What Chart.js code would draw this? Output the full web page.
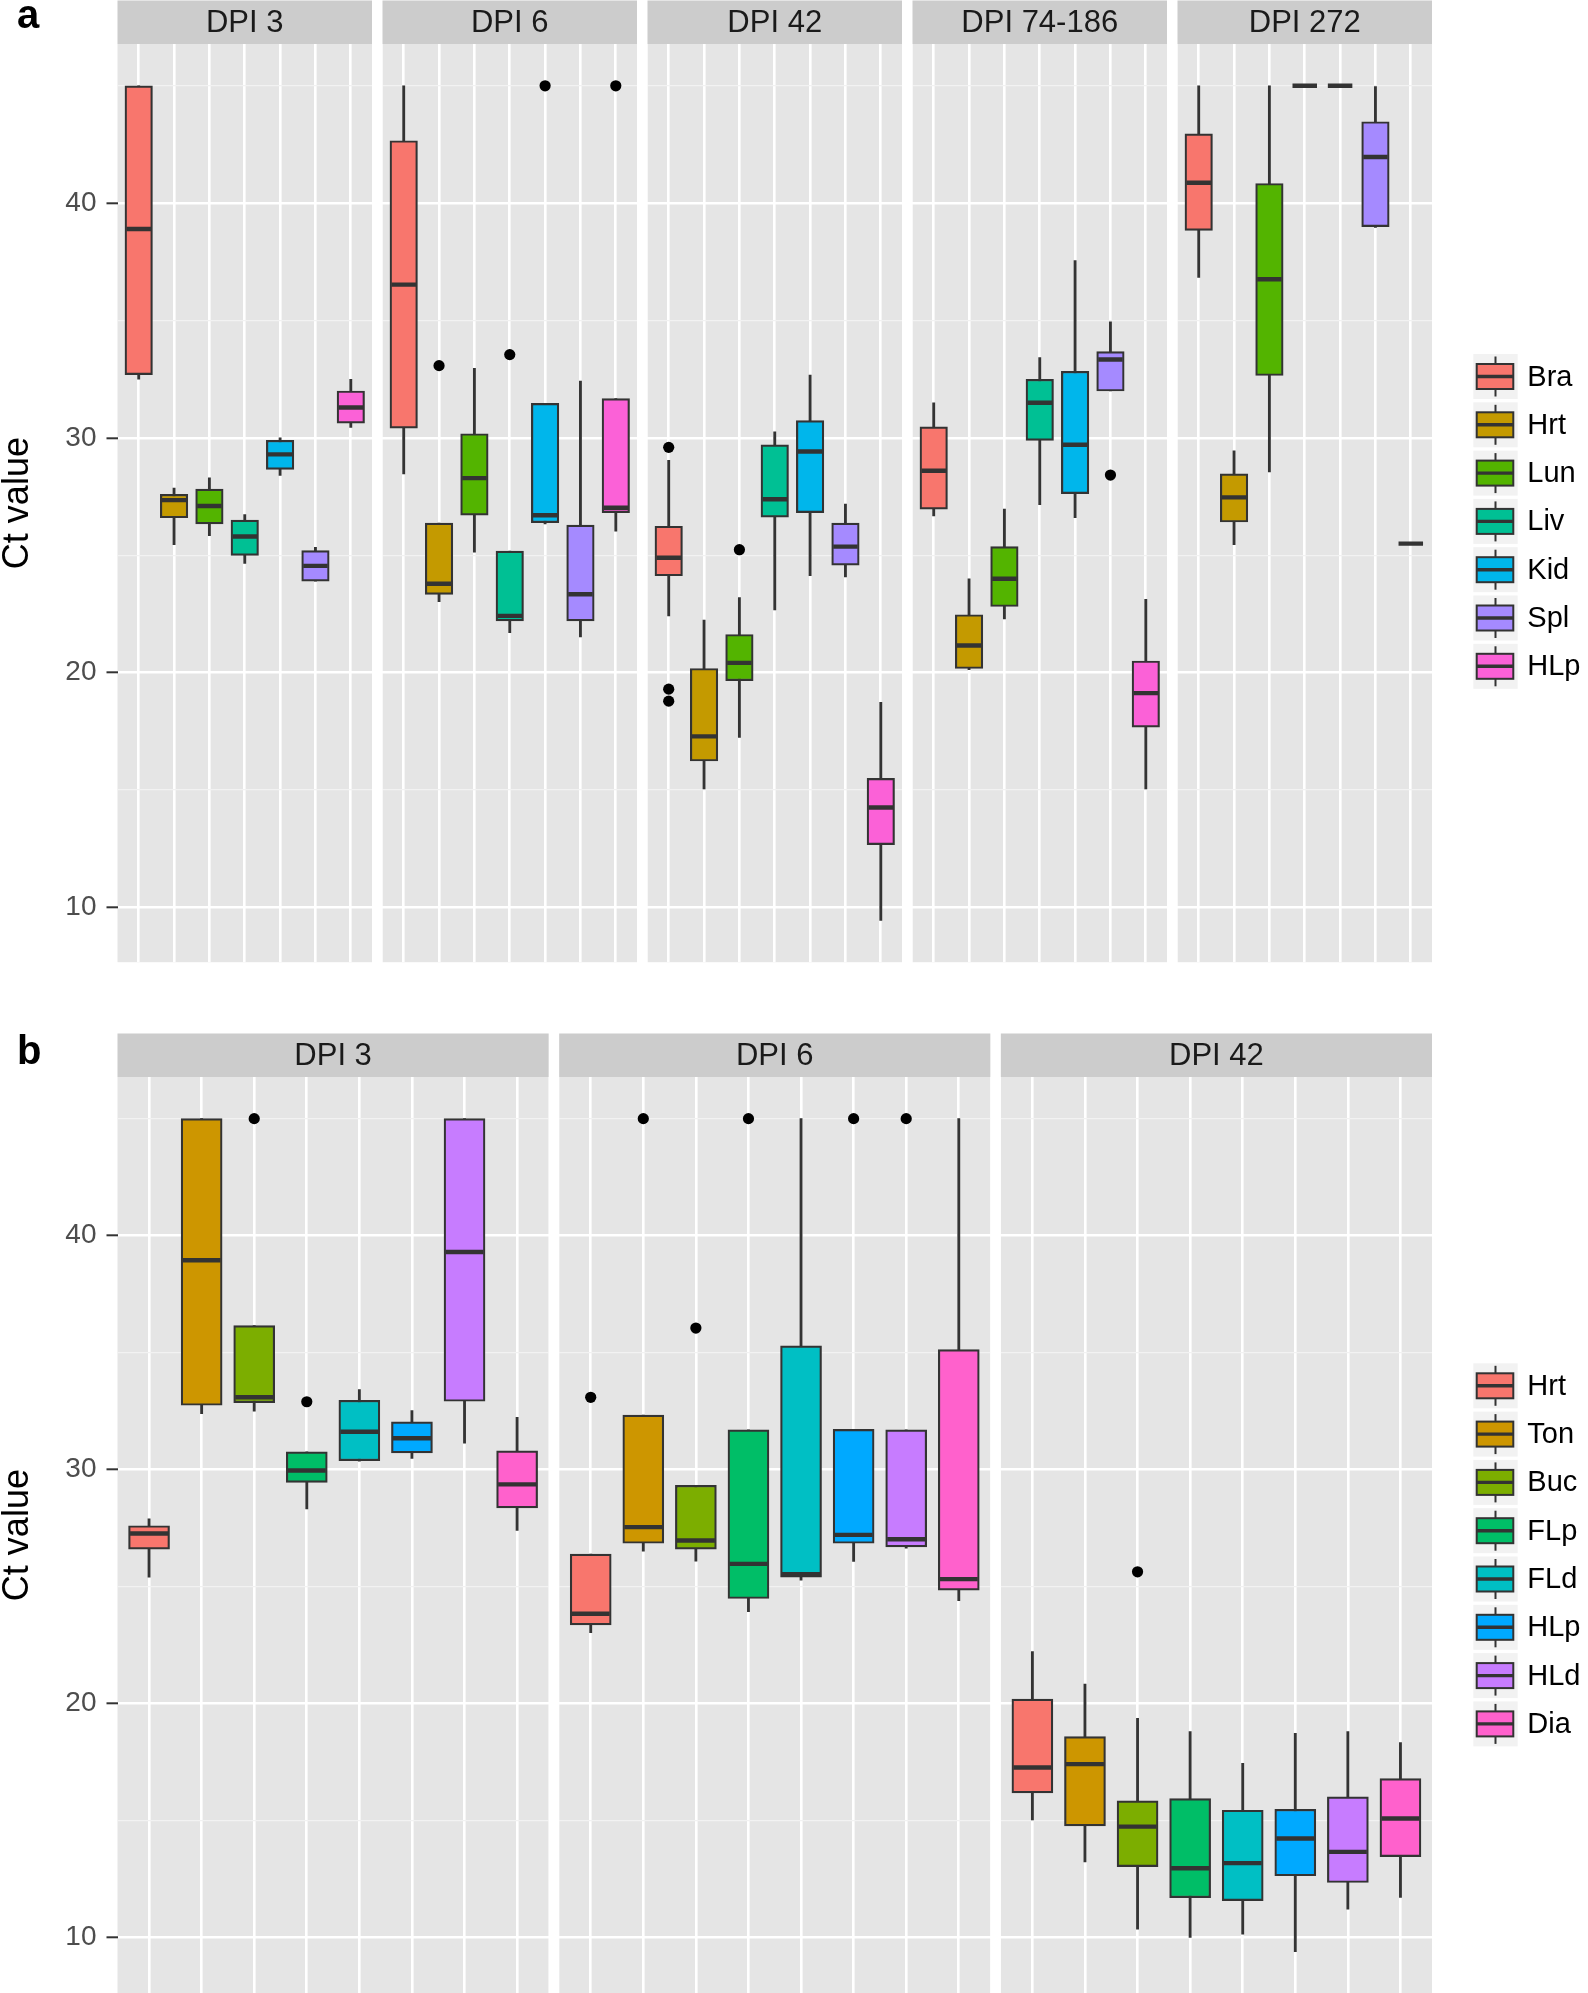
<!DOCTYPE html>
<html>
<head>
<meta charset="utf-8">
<title>Ct value box plots</title>
<script src="https://cdn.jsdelivr.net/npm/chart.js@4.4.1/dist/chart.umd.min.js"></script>
<style>
  html, body { margin: 0; padding: 0; background: #fff; }
  #wrap { position: relative; width: 1588px; height: 1993px; overflow: hidden; }
  canvas { position: absolute; left: 0; }
  #panelA { top: 0; }
  #panelB { top: 990px; }
</style>
</head>
<body>
<div id="wrap">
  <canvas id="panelA" width="1588" height="989"></canvas>
  <canvas id="panelB" width="1588" height="1030"></canvas>
</div>
<script>
(function () {
  "use strict";

  // ---- data ----
  // each row: [lower whisker, q1, median, q3, upper whisker]
  var organsA = ["Bra", "Hrt", "Lun", "Liv", "Kid", "Spl", "HLp"];
  var coloursA = ["#F8766D", "#C49A00", "#53B400", "#00C094", "#00B6EB", "#A58AFF", "#FB61D7"];
  var daysA = ["DPI 3", "DPI 6", "DPI 42", "DPI 74-186", "DPI 272"];

  var a_dpi3 = [
    [32.5, 32.7, 38.9, 45.0, 45.0],
    [25.45, 26.6, 27.35, 27.6, 27.87],
    [25.84, 26.34, 27.1, 27.82, 28.3],
    [24.66, 25.0, 25.8, 26.5, 26.74],
    [28.4, 28.66, 29.3, 29.9, 30.0],
    [23.9, 23.9, 24.55, 25.2, 25.34],
    [30.45, 30.63, 31.3, 32.0, 32.5]
  ];
  var a_dpi6 = [
    [28.47, 30.42, 36.53, 42.66, 45.0],
    [23.03, 23.34, 23.79, 26.37, 26.37],
    [25.13, 26.71, 28.29, 30.18, 32.97],
    [21.71, 22.21, 22.42, 25.18, 25.18],
    [26.34, 26.39, 26.71, 31.47, 31.47],
    [21.53, 22.21, 23.34, 26.29, 32.42],
    [26.03, 26.82, 27.03, 31.68, 31.68]
  ];
  var a_dpi42 = [
    [22.42, 24.13, 24.9, 26.24, 29.05],
    [15.05, 16.24, 17.29, 20.18, 22.24],
    [17.24, 19.66, 20.42, 21.63, 23.2],
    [22.68, 26.63, 27.39, 29.71, 30.26],
    [24.13, 26.82, 29.42, 30.74, 32.68],
    [24.08, 24.58, 25.37, 26.37, 27.18],
    [9.45, 12.68, 14.26, 15.5, 18.74]
  ];
  var a_dpi74 = [
    [26.68, 26.97, 28.6, 30.47, 31.5],
    [20.13, 20.18, 21.16, 22.47, 24.0],
    [22.29, 22.82, 24.0, 25.37, 26.97],
    [27.16, 29.9, 31.5, 32.5, 33.42],
    [26.6, 27.63, 29.71, 32.84, 37.55],
    [32.0, 32.0, 33.34, 33.68, 34.95],
    [15.05, 17.68, 19.13, 20.5, 23.13]
  ];
  var a_dpi272 = [
    [36.84, 38.84, 40.87, 42.95, 45.0],
    [25.45, 26.42, 27.47, 28.47, 29.45],
    [28.55, 32.66, 36.76, 40.84, 45.0],
    [45.0, 45.0, 45.0, 45.0, 45.0],
    [45.0, 45.0, 45.0, 45.0, 45.0],
    [38.97, 39.0, 41.97, 43.47, 44.97],
    [25.5, 25.5, 25.5, 25.5, 25.5]
  ];
  // outliers: [organ index, value]
  var a_out3 = [];
  var a_out6 = [[1, 33.08], [3, 33.55], [4, 45.0], [6, 45.0]];
  var a_out42 = [[0, 29.6], [0, 19.3], [0, 18.79], [2, 25.24]];
  var a_out74 = [[5, 28.42]];
  var a_out272 = [];

  var organsB = ["Hrt", "Ton", "Buc", "FLp", "FLd", "HLp", "HLd", "Dia"];
  var coloursB = ["#F8766D", "#CD9600", "#7CAE00", "#00BE67", "#00BFC4", "#00A9FF", "#C77CFF", "#FF61CC"];
  var daysB = ["DPI 3", "DPI 6", "DPI 42"];

  var b_dpi3 = [
    [25.4, 26.6, 27.27, 27.6, 27.9],
    [32.39, 32.75, 38.95, 45.0, 45.0],
    [32.5, 32.86, 33.09, 36.15, 36.15],
    [28.32, 29.45, 29.96, 30.76, 30.76],
    [30.36, 30.38, 31.62, 32.96, 33.42],
    [30.48, 30.71, 31.34, 32.04, 32.52],
    [31.13, 32.92, 39.3, 45.0, 45.0],
    [27.4, 28.36, 29.37, 30.8, 32.23]
  ];
  var b_dpi6 = [
    [23.03, 23.36, 23.84, 26.39, 26.39],
    [26.51, 26.85, 27.54, 32.33, 32.33],
    [26.09, 26.6, 26.97, 29.33, 29.33],
    [23.93, 24.49, 25.97, 31.7, 31.7],
    [25.27, 25.4, 25.53, 35.29, 45.0],
    [26.07, 26.85, 27.21, 31.72, 31.72],
    [26.64, 26.7, 27.02, 31.7, 31.7],
    [24.4, 24.85, 25.32, 35.13, 45.0]
  ];
  var b_dpi42 = [
    [15.03, 16.18, 17.27, 20.19, 22.22],
    [13.23, 14.77, 17.41, 18.59, 20.83],
    [10.36, 13.03, 14.74, 15.84, 19.37],
    [10.0, 11.7, 12.96, 15.94, 18.8],
    [10.14, 11.58, 13.18, 15.44, 17.44],
    [9.4, 12.64, 14.23, 15.48, 18.73],
    [11.21, 12.35, 13.66, 16.01, 18.8],
    [11.71, 13.46, 15.09, 16.79, 18.33]
  ];
  var b_out3 = [[2, 45.0], [3, 32.9]];
  var b_out6 = [[0, 33.09], [1, 45.0], [2, 36.05], [3, 45.0], [5, 45.0], [6, 45.0]];
  var b_out42 = [[2, 25.63]];

  var yTicks = [10, 15, 20, 25, 30, 35, 40, 45];

  // ---- drawing ----
  var FONT = "'Liberation Sans', Arial, Helvetica, sans-serif";
  Chart.defaults.font.family = FONT;

  var facetPlugin = {
    id: "facets",
    beforeDraw: function (chart, args, o) {
      var ctx = chart.ctx, a = chart.chartArea, xs = chart.scales.x;
      ctx.save();
      ctx.fillStyle = "#E5E5E5";
      o.names.forEach(function (name, f) {
        var x0 = xs.getPixelForValue(f * (o.span + o.gap));
        var x1 = xs.getPixelForValue(f * (o.span + o.gap) + o.span);
        ctx.fillRect(x0, a.top, x1 - x0, a.bottom - a.top);
      });
      ctx.restore();
    },
    beforeDatasetsDraw: function (chart, args, o) {
      var ctx = chart.ctx, a = chart.chartArea, xs = chart.scales.x;
      ctx.save();
      // white gaps between facets (hide minor grid there)
      ctx.fillStyle = "#fff";
      for (var f = 0; f < o.names.length - 1; f++) {
        var g0 = xs.getPixelForValue(f * (o.span + o.gap) + o.span);
        var g1 = xs.getPixelForValue((f + 1) * (o.span + o.gap));
        ctx.fillRect(g0, a.top, g1 - g0, a.bottom - a.top);
      }
      // strips
      o.names.forEach(function (name, f) {
        var x0 = xs.getPixelForValue(f * (o.span + o.gap));
        var x1 = xs.getPixelForValue(f * (o.span + o.gap) + o.span);
        ctx.fillStyle = "#CCCCCC";
        ctx.fillRect(x0, a.top - o.stripH, x1 - x0, o.stripH);
        ctx.fillStyle = "#1A1A1A";
        ctx.font = "31px " + FONT;
        ctx.textAlign = "center";
        ctx.textBaseline = "middle";
        ctx.fillText(name, (x0 + x1) / 2, a.top - o.stripH / 2 + 1);
      });
      ctx.restore();
    },
    afterDraw: function (chart, args, o) {
      var ctx = chart.ctx;
      ctx.save();
      // panel letter
      ctx.fillStyle = "#000";
      ctx.font = "bold 40px " + FONT;
      ctx.textAlign = "left";
      ctx.textBaseline = "alphabetic";
      ctx.fillText(o.letter, 17, o.letterY);
      // legend
      var kx = 1473.3, kw = 44.4, cx = kx + kw / 2;
      o.legendNames.forEach(function (name, i) {
        var cy = o.legendY + i * 48.3;
        ctx.fillStyle = "#F2F2F2";
        ctx.fillRect(kx, cy - 22.5, kw, 45);
        ctx.strokeStyle = "#333";
        ctx.lineWidth = 2;
        ctx.beginPath();
        ctx.moveTo(cx, cy - 20); ctx.lineTo(cx, cy + 20);
        ctx.stroke();
        ctx.fillStyle = o.legendColours[i];
        ctx.fillRect(1476.7, cy - 12.5, 36.6, 25);
        ctx.lineWidth = 2;
        ctx.strokeRect(1476.7, cy - 12.5, 36.6, 25);
        ctx.lineWidth = 3.4;
        ctx.beginPath();
        ctx.moveTo(1476.7, cy); ctx.lineTo(1513.3, cy);
        ctx.stroke();
        ctx.fillStyle = "#000";
        ctx.font = "29px " + FONT;
        ctx.textAlign = "left";
        ctx.textBaseline = "middle";
        ctx.fillText(name, 1527.3, cy + 1);
      });
      ctx.restore();
    }
  };

  function isMajor(ctx) {
    return ctx.tick && ctx.tick.value % 10 === 0;
  }

  function buildPanel(id, p) {
    var n = p.organs.length;
    var span = n + 0.2;
    function xAt(f, i) { return f * (span + p.gap) + 0.6 + i; }

    var boxes = [], whisk = [], meds = [], fills = [], outs = [], xTicks = [];
    p.stats.forEach(function (rows, f) {
      rows.forEach(function (r, i) {
        var x = xAt(f, i);
        xTicks.push(x);
        whisk.push({ x: x, y: [r[0], r[4]] });
        boxes.push({ x: x, y: [r[1], r[3]] });
        fills.push(p.colours[i]);
        meds.push({ x: x, y: r[2] });
      });
      p.outliers[f].forEach(function (o) {
        outs.push({ x: xAt(f, o[0]), y: o[1] });
      });
    });

    var xMax = p.days.length * span + (p.days.length - 1) * p.gap;

    return new Chart(document.getElementById(id), {
      type: "bar",
      data: {
        datasets: [
          { type: "scatter", data: outs, order: 0, pointRadius: 5.6, pointBackgroundColor: "#000", pointBorderWidth: 0 },
          { type: "scatter", data: meds, order: 1, pointStyle: "line", pointRadius: p.boxPx / 2 - 1.5,
            pointBorderColor: "#333", pointBorderWidth: 4.4 },
          { type: "bar", data: boxes, order: 2, grouped: false, barThickness: p.boxPx, maxBarThickness: p.boxPx,
            backgroundColor: fills, borderColor: "#333", borderWidth: 2.2, borderSkipped: false },
          { type: "bar", data: whisk, order: 3, grouped: false, barThickness: 2.2, maxBarThickness: 2.2,
            backgroundColor: "#333", borderWidth: 0 }
        ]
      },
      options: {
        responsive: false,
        animation: false,
        events: [],
        devicePixelRatio: 1,
        // bottom edge is set by the y labels' half height + tick padding (26.8px)
        layout: { padding: { top: p.padTop, right: 156, bottom: 0, left: 0 } },
        plugins: {
          legend: { display: false },
          tooltip: { enabled: false },
          facets: {
            names: p.days, span: span, gap: p.gap, stripH: 43.5,
            letter: p.letter, letterY: p.letterY,
            legendNames: p.organs, legendColours: p.colours, legendY: p.legendY
          }
        },
        scales: {
          x: {
            type: "linear", min: 0, max: xMax, offset: false,
            afterBuildTicks: function (s) {
              s.ticks = xTicks.map(function (v) { return { value: v }; });
            },
            ticks: { display: false },
            grid: { offset: false, color: "#fff", lineWidth: 2.6, drawTicks: false },
            border: { display: false }
          },
          y: {
            type: "linear", min: p.yMin, max: p.yMax,
            afterBuildTicks: function (s) {
              s.ticks = yTicks.map(function (v) { return { value: v }; });
            },
            afterFit: function (s) { s.width = 117.5; },
            ticks: {
              color: "#4D4D4D", font: { size: 28 }, padding: 10,
              callback: function (v) { return v % 10 === 0 ? String(v) : ""; }
            },
            grid: {
              color: function (c) { return isMajor(c) ? "#fff" : "#F2F2F2"; },
              lineWidth: function (c) { return isMajor(c) ? 2.6 : 1.3; },
              tickColor: function (c) { return isMajor(c) ? "#333" : "rgba(0,0,0,0)"; },
              tickWidth: 2,
              tickLength: 11
            },
            border: { display: false },
            title: {
              display: true, text: "Ct value", color: "#000",
              font: { size: 36, lineHeight: 1 }, padding: 0
            }
          }
        }
      },
      plugins: [facetPlugin]
    });
  }

  buildPanel("panelA", {
    organs: organsA, colours: coloursA, days: daysA,
    stats: [a_dpi3, a_dpi6, a_dpi42, a_dpi74, a_dpi272],
    outliers: [a_out3, a_out6, a_out42, a_out74, a_out272],
    gap: 0.297, boxPx: 27.5, yMin: 7.67, yMax: 46.78,
    padTop: 44, letter: "a", letterY: 28, legendY: 376.5
  });

  buildPanel("panelB", {
    organs: organsB, colours: coloursB, days: daysB,
    stats: [b_dpi3, b_dpi6, b_dpi42],
    outliers: [b_out3, b_out6, b_out42],
    gap: 0.2, boxPx: 41, yMin: 7.62, yMax: 46.78,
    padTop: 87, letter: "b", letterY: 74, legendY: 395.8
  });
})();
</script>
</body>
</html>
